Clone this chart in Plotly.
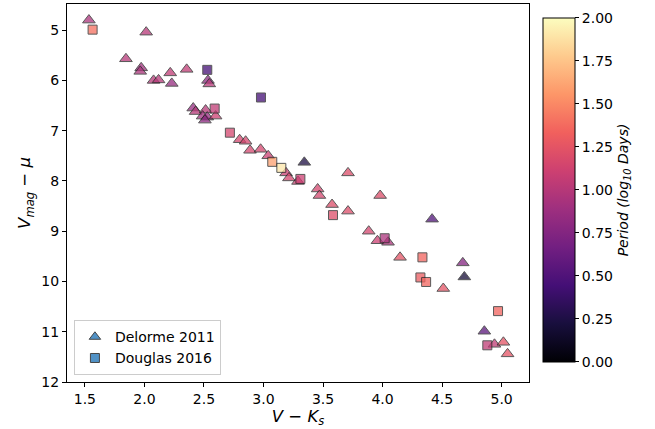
import plotly.graph_objects as go

# Delorme 2011 (triangles)
del_x = [1.534, 2.015, 1.845, 1.973, 1.965, 2.077, 2.119, 2.217, 2.23, 2.355,
         2.534, 2.545, 2.41, 2.43, 2.514, 2.489, 2.528, 2.508, 2.598, 2.80,
         2.85, 2.887, 2.976, 3.04, 3.19, 3.214, 3.343, 3.29, 3.71, 3.455,
         3.47, 3.98, 3.576, 3.71, 4.416, 3.884, 3.957, 4.046, 4.147, 4.674,
         4.687, 4.51, 4.855, 4.94, 5.015, 5.05]
del_y = [4.80, 5.04, 5.57, 5.75, 5.82, 6.00, 5.99, 5.85, 6.06, 5.78,
         6.00, 6.07, 6.55, 6.62, 6.59, 6.71, 6.73, 6.79, 6.71, 7.18,
         7.21, 7.39, 7.37, 7.50, 7.84, 7.94, 7.63, 8.01, 7.84, 8.16,
         8.29, 8.29, 8.47, 8.60, 8.76, 9.00, 9.19, 9.22, 9.52, 9.63,
         9.91, 10.14, 10.99, 11.25, 11.21, 11.44]
del_p = [0.95, 1.0, 1.0, 0.9, 0.95, 1.0, 1.0, 1.05, 0.85, 1.05,
         0.8, 1.0, 0.85, 1.0, 1.0, 0.9, 0.85, 0.8, 1.1, 1.15,
         1.15, 1.15, 1.15, 1.1, 1.1, 1.15, 0.25, 1.1, 1.2, 1.15,
         1.15, 1.2, 1.2, 1.2, 0.5, 1.15, 1.1, 0.95, 1.25, 0.75,
         0.2, 1.25, 0.55, 1.05, 1.25, 1.25]

# Douglas 2016 (squares)
dou_x = [1.565, 2.528, 2.979, 2.59, 2.718, 3.074, 3.15, 3.31, 3.584, 4.018,
         4.335, 4.318, 4.366, 4.97, 4.88]
dou_y = [4.99, 5.79, 6.34, 6.56, 7.04, 7.62, 7.74, 7.96, 8.68, 9.14,
         9.52, 9.92, 10.01, 10.59, 11.27]
dou_p = [1.4, 0.45, 0.45, 1.05, 1.15, 1.6, 1.9, 1.1, 1.2, 0.95,
         1.35, 1.3, 1.35, 1.35, 1.05]

x_ticks = [1.5, 2.0, 2.5, 3.0, 3.5, 4.0, 4.5, 5.0]
y_ticks = [5, 6, 7, 8, 9, 10, 11, 12]
cb_ticks = [0, 0.25, 0.5, 0.75, 1.0, 1.25, 1.5, 1.75, 2.0]

font = "DejaVu Sans"
fig = go.Figure()

common_marker = dict(colorscale="Magma", cmin=0, cmax=2, opacity=0.75,
                     line=dict(color="#222222", width=1))

fig.add_trace(go.Scatter(
    x=del_x, y=del_y, mode="markers", showlegend=False,
    marker=dict(symbol="triangle-up", size=11, color=del_p, **common_marker,
                colorbar=dict(
                    x=1.03, xanchor="left", xref="paper", xpad=0, ypad=0,
                    y=0.508, yanchor="middle", len=0.91, lenmode="fraction",
                    thickness=32, outlinecolor="black", outlinewidth=1,
                    tickvals=cb_ticks, tickformat=".2f", ticks="outside",
                    ticklen=4, tickcolor="black",
                    tickfont=dict(family=font, size=14, color="black"),
                    title=dict(text="<i>Period (log<sub>10</sub> Days)</i>",
                               side="right",
                               font=dict(family=font, size=14, color="black")),
                )),
))
fig.add_trace(go.Scatter(
    x=dou_x, y=dou_y, mode="markers", showlegend=False,
    marker=dict(symbol="square", size=9, color=dou_p, showscale=False, **common_marker),
))

# legend entries
fig.add_trace(go.Scatter(
    x=[None], y=[None], mode="markers", name="Delorme 2011",
    marker=dict(symbol="triangle-up", size=10, color="#3f87c0", opacity=0.9,
                line=dict(color="#333333", width=1)),
))
fig.add_trace(go.Scatter(
    x=[None], y=[None], mode="markers", name="Douglas 2016",
    marker=dict(symbol="square", size=9, color="#3f87c0", opacity=0.9,
                line=dict(color="#333333", width=1)),
))

axis_common = dict(showline=True, linecolor="black", linewidth=1, mirror=True,
                   ticks="outside", ticklen=4, tickcolor="black",
                   showgrid=False, zeroline=False, automargin=False,
                   tickfont=dict(family=font, size=14, color="black"))

fig.update_layout(
    width=655, height=429,
    margin=dict(l=67, r=126, t=4, b=47, autoexpand=False),
    paper_bgcolor="white", plot_bgcolor="white",
    font=dict(family=font, color="black"),
    xaxis=dict(range=[1.35, 5.23], tickvals=x_ticks,
               ticktext=[f"{v:.1f}" for v in x_ticks],
               title=dict(text="<i>V</i> − <i>K<sub>s</sub></i>", standoff=2,
                          font=dict(family=font, size=16.5, color="black")),
               **axis_common),
    yaxis=dict(range=[12, 4.48], tickvals=y_ticks,
               title=dict(text="<i>V<sub>mag</sub></i> − <i>μ</i>", standoff=6,
                          font=dict(family=font, size=16.5, color="black")),
               **axis_common),
    legend=dict(x=0.015, y=0.018, xanchor="left", yanchor="bottom",
                bgcolor="rgba(255,255,255,0.8)", bordercolor="#cccccc",
                borderwidth=1, font=dict(family=font, size=14, color="black"),
                tracegroupgap=4),
)

fig.write_html("out.html", config={"displayModeBar": False},
               post_script="document.body.style.margin='0';document.body.style.overflow='hidden';")
